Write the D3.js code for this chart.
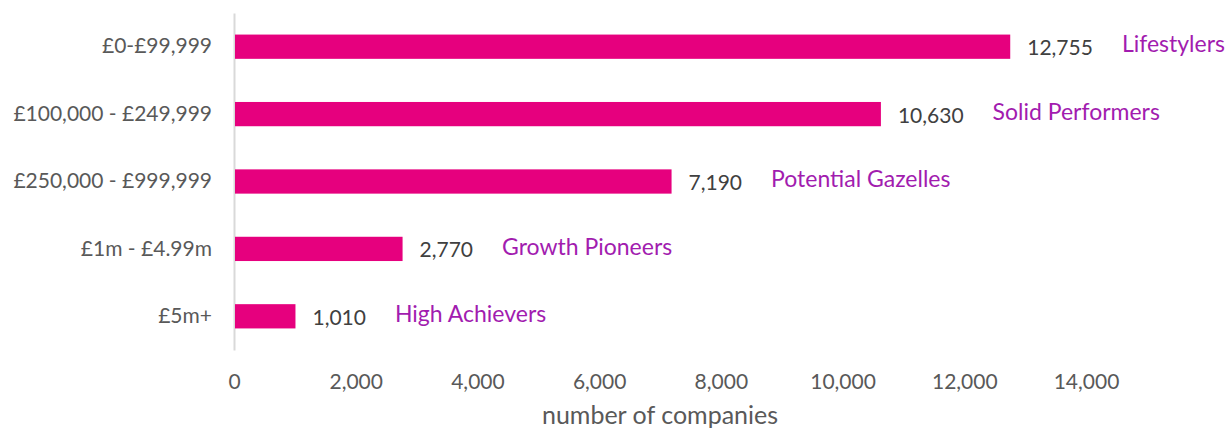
<!DOCTYPE html>
<html>
<head>
<meta charset="utf-8">
<script src="https://cdn.jsdelivr.net/npm/d3@7"></script>
<style>
  body { margin: 0; background: #fff; }
  text { font-family: Lato, "Open Sans", sans-serif; }
</style>
</head>
<body>
<div id="chart"></div>
<script>
var bands = ["£0-£99,999", "£100,000 - £249,999", "£250,000 - £999,999", "£1m - £4.99m", "£5m+"];
var companies = [12755, 10630, 7190, 2770, 1010];
var segments = ["Lifestylers", "Solid Performers", "Potential Gazelles", "Growth Pioneers", "High Achievers"];
var xTicks = [0, 2000, 4000, 6000, 8000, 10000, 12000, 14000];

var margin = { top: 13, right: 146, bottom: 80, left: 234 },
    width = 1232 - margin.left - margin.right,
    height = 430 - margin.top - margin.bottom;

var svg = d3.select("#chart").append("svg")
    .attr("width", 1232)
    .attr("height", 430)
  .append("g")
    .attr("transform", "translate(" + margin.left + "," + margin.top + ")");

var x = d3.scaleLinear()
    .domain([0, 14000])
    .range([0, width]);

var y = d3.scaleBand()
    .domain(bands)
    .range([0, height])
    .paddingInner(0.64)
    .paddingOuter(0.32);

var fmt = d3.format(",");

// x axis: labels only, no line
var xAxis = svg.append("g")
    .attr("transform", "translate(0," + height + ")")
    .call(d3.axisBottom(x).tickValues(xTicks).tickFormat(fmt).tickSize(0).tickPadding(24));
xAxis.select(".domain").remove();
xAxis.selectAll("text")
    .style("font-size", "21px")
    .style("font-family", "Lato, sans-serif")
    .attr("fill", "#595959");

// y axis
var yAxis = svg.append("g")
    .call(d3.axisLeft(y).tickSize(0).tickPadding(22));
yAxis.select(".domain").attr("stroke", "#d9d9d9").attr("stroke-width", 2);
yAxis.selectAll("text")
    .style("font-size", "21px")
    .style("font-family", "Lato, sans-serif")
    .attr("fill", "#595959");

var rows = bands.map(function (b, i) {
  return { band: b, value: companies[i], segment: segments[i] };
});

svg.selectAll(".bar")
    .data(rows)
    .enter().append("rect")
    .attr("class", "bar")
    .attr("x", 1)
    .attr("y", function (d) { return y(d.band); })
    .attr("width", function (d) { return x(d.value) - 1; })
    .attr("height", y.bandwidth())
    .attr("fill", "#e6007e");

var vals = svg.selectAll(".val")
    .data(rows)
    .enter().append("text")
    .attr("class", "val")
    .attr("x", function (d) { return x(d.value) + 17; })
    .attr("y", function (d) { return y(d.band) + y.bandwidth() / 2; })
    .attr("dy", "0.4em")
    .style("font-size", "21px")
    .attr("fill", "#404040")
    .text(function (d) { return fmt(d.value); });

vals.each(function (d) {
  var w = this.getComputedTextLength();
  svg.append("text")
      .attr("x", x(d.value) + 17 + w + 29)
      .attr("y", y(d.band) + y.bandwidth() / 2)
      .attr("dy", "0.25em")
      .style("font-size", "23px")
      .attr("fill", "#a21caf")
      .text(d.segment);
});

svg.append("text")
    .attr("x", 660 - margin.left)
    .attr("y", 424 - margin.top)
    .attr("text-anchor", "middle")
    .style("font-size", "25px")
    .attr("fill", "#595959")
    .text("number of companies");
</script>
</body>
</html>
